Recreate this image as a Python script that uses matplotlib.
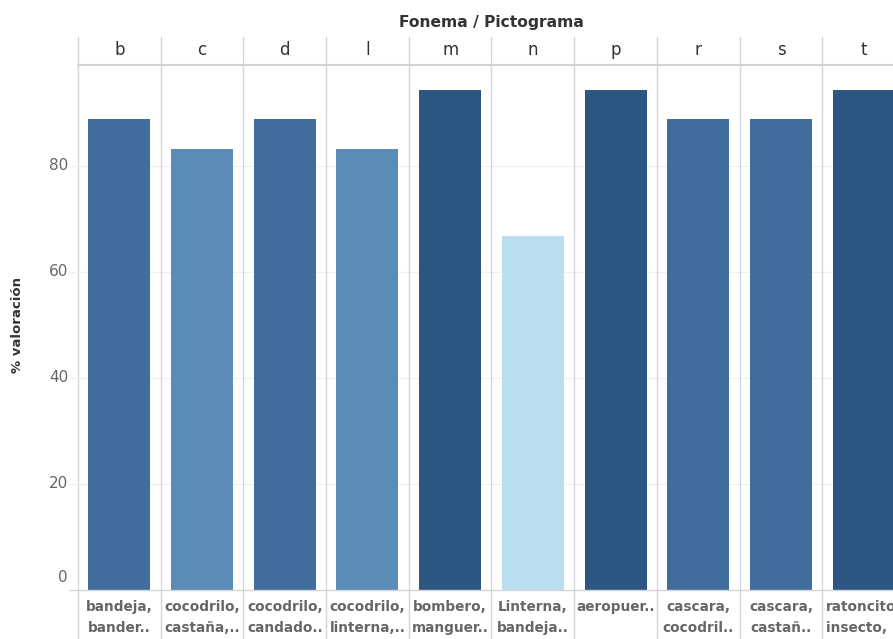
import matplotlib
matplotlib.use("Agg")
import matplotlib.pyplot as plt
from matplotlib.lines import Line2D

fonemas = ["b", "c", "d", "l", "m", "n", "p", "r", "s", "t"]
pictogramas = ["bandeja,\nbander..", "cocodrilo,\ncastaña,..", "cocodrilo,\ncandado..",
               "cocodrilo,\nlinterna,..", "bombero,\nmanguer..", "Linterna,\nbandeja..",
               "aeropuer..", "cascara,\ncocodril..", "cascara,\ncastañ..", "ratoncito,\ninsecto, .."]
valores = [88.9, 83.3, 88.9, 83.3, 94.4, 66.7, 94.4, 88.9, 88.9, 94.4]
y_ticks = [0, 20, 40, 60, 80]

def color_for(v):
    if v >= 94:
        return "#2b5782"
    if v >= 88:
        return "#416d9c"
    if v >= 80:
        return "#5b8bb7"
    return "#badef0"

W, H = 893, 639
fig = plt.figure(figsize=(W / 100, H / 100), dpi=100)
font = "DejaVu Sans"

x0, col_w = 78, 82.7
y_bottom, y_top = 590, 65
ymax = (y_bottom - y_top) / 5.3
ax = fig.add_axes([x0 / W, (H - y_bottom) / H, (W - x0) / W, (y_bottom - y_top) / H])
ax.set_xlim(0, (W - x0) / col_w)
ax.set_ylim(0, ymax)
for s in ax.spines.values():
    s.set_visible(False)
ax.set_xticks([])
ax.set_yticks([])

for v in y_ticks[1:]:
    ax.axhline(v, color="#f0f0f0", lw=0.8, zorder=0)

n = len(fonemas)
xs = [i + 0.5 for i in range(n)]
ax.bar(xs, valores, width=0.75, color=[color_for(v) for v in valores], zorder=2)

grid_c = "#d4d4d4"

# vertical separators
for i in range(n + 1):
    xp = x0 + i * col_w
    if xp > W + 1:
        continue
    fx = xp / W
    fig.add_artist(Line2D([fx, fx], [1 - 37 / H, 0], color=grid_c, lw=1.0))
# header line
fig.add_artist(Line2D([x0 / W, 1], [1 - y_top / H] * 2, color=grid_c, lw=1.5))
# bottom axis line
fig.add_artist(Line2D([70 / W, 1], [1 - y_bottom / H] * 2, color=grid_c, lw=1.0))

# header labels
for i, f in enumerate(fonemas):
    xc = x0 + (i + 0.5) * col_w
    fig.text(xc / W, 1 - 50 / H, f, ha="center", va="center", fontsize=12,
             color="#333333", family=font)
    for k, line in enumerate(pictogramas[i].split("\n")):
        fig.text(xc / W, 1 - (607 + 21 * k) / H, line, ha="center", va="center",
                 fontsize=9.8, color="#666666", family=font, fontweight="bold")

fig.text((x0 + 5 * col_w) / W, 1 - 22 / H, "Fonema / Pictograma", ha="center",
         va="center", fontsize=11.2, fontweight="bold", color="#333333", family=font)

# y ticks
for v in y_ticks:
    yp = y_bottom - v * 5.3
    yl = 577 if v == 0 else yp
    fig.text(68 / W, 1 - yl / H, str(v), ha="right", va="center", fontsize=11,
             color="#666666", family=font)
    if v > 0:
        fig.add_artist(Line2D([71 / W, x0 / W], [1 - yp / H] * 2, color="#eeeeee", lw=1.0))

fig.text(18 / W, 1 - 325 / H, "% valoración", rotation=90, ha="center", va="center",
         fontsize=9.5, fontweight="bold", color="#333333", family=font)

fig.savefig("out.png", dpi=100)
